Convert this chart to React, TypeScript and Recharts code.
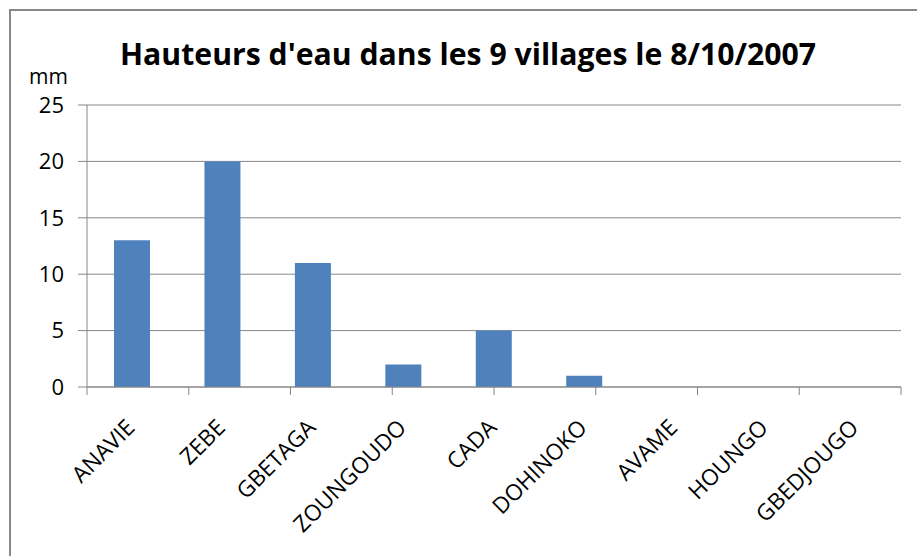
import React from 'react';
import { BarChart, Bar, XAxis, YAxis, CartesianGrid } from 'recharts';

const villages = ['ANAVIE', 'ZEBE', 'GBETAGA', 'ZOUNGOUDO', 'CADA', 'DOHINOKO', 'AVAME', 'HOUNGO', 'GBEDJOUGO'];
const hauteurs = [13, 20, 11, 2, 5, 1, 0, 0, 0];
const yTicks = [0, 5, 10, 15, 20, 25];
const title = "Hauteurs d'eau dans les 9 villages le 8/10/2007";
const unit = 'mm';

const data = villages.map((name, i) => ({ name, value: hauteurs[i] }));
// tick marks sit between the categories, not under them
const boundaries = [...villages.map((_, i) => i), villages.length];

const FONT = '"Open Sans", "Noto Sans", sans-serif';
const GRAY = '#878787';

function VillageTick({ x, y, payload }: any) {
  const px = x + 4;
  const py = y + 41;
  return (
    <text
      x={px}
      y={py}
      textAnchor="end"
      fontSize={22.5}
      fontFamily={FONT}
      fill="#000"
      transform={`rotate(-45 ${px} ${py})`}
    >
      {payload.value}
    </text>
  );
}

const NoLabel = () => <g />;

export default function App() {
  return (
    <div style={{ position: 'absolute', left: 0, top: 0, width: 917, height: 556, background: '#fff', overflow: 'hidden' }}>
      <div
        style={{
          position: 'absolute',
          left: 9,
          top: 9,
          width: 920,
          height: 560,
          borderTop: `2px solid ${GRAY}`,
          borderLeft: `2px solid ${GRAY}`
        }}
      />
      <svg width={917} height={556} style={{ position: 'absolute', left: 0, top: 0 }}>
        <text
          x={468}
          y={65}
          textAnchor="middle"
          fontSize={31}
          fontWeight="bold"
          fontFamily={FONT}
          textLength={696}
          lengthAdjust="spacingAndGlyphs"
          fill="#000"
        >
          {title}
        </text>
        <text x={29} y={84} fontSize={21} fontFamily={FONT} fill="#000">
          {unit}
        </text>
      </svg>
      <div style={{ position: 'absolute', left: 0, top: 0 }}>
        <BarChart width={917} height={556} data={data} margin={{ top: 105, right: 16, left: 27, bottom: 18 }}>
          <CartesianGrid vertical={false} stroke={GRAY} xAxisId="cat" />
          <XAxis
            xAxisId="bounds"
            type="number"
            domain={[0, villages.length]}
            ticks={boundaries}
            interval={0}
            height={1}
            tick={<NoLabel />}
            tickSize={8}
            axisLine={{ stroke: GRAY }}
            tickLine={{ stroke: GRAY }}
          />
          <XAxis
            xAxisId="cat"
            dataKey="name"
            height={150}
            axisLine={false}
            tickLine={false}
            tickSize={0}
            tickMargin={0}
            interval={0}
            tick={<VillageTick />}
          />
          <YAxis
            width={60}
            domain={[0, 25]}
            ticks={yTicks}
            tickSize={9}
            tickMargin={14}
            axisLine={{ stroke: GRAY }}
            tickLine={{ stroke: GRAY }}
            tick={{ fontSize: 22, fontFamily: FONT, fill: '#000' }}
          />
          <Bar xAxisId="cat" dataKey="value" fill="#4F81BD" barSize={36} isAnimationActive={false} />
        </BarChart>
      </div>
    </div>
  );
}
